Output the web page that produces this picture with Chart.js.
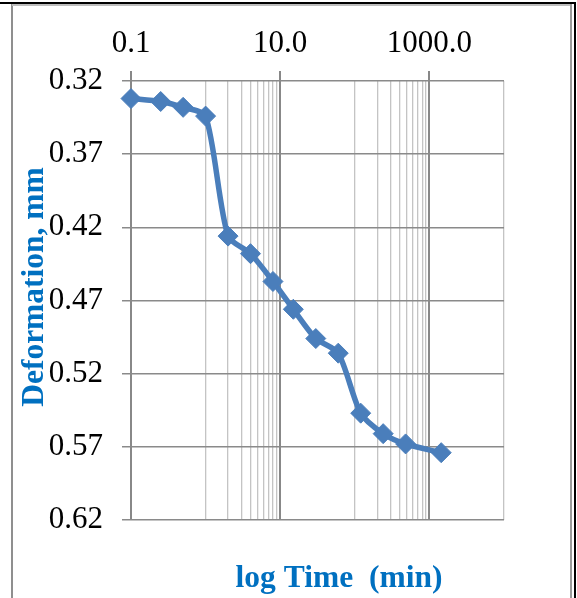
<!DOCTYPE html>
<html>
<head>
<meta charset="utf-8">
<script src="https://cdn.jsdelivr.net/npm/chart.js@4/dist/chart.umd.min.js"></script>
<style>
  html, body { margin: 0; padding: 0; background: #fff; }
  #wrap { position: relative; width: 577px; height: 598px; overflow: hidden; }
  #wrap canvas { position: absolute; left: 0; top: 0; }
  .edge { position: absolute; }
</style>
</head>
<body>
<div id="wrap">
  <div class="edge" style="left:0;top:2px;width:576px;height:2px;background:#000"></div>
  <div class="edge" style="left:574px;top:2px;width:2px;height:596px;background:#000"></div>
  <div class="edge" style="left:11px;top:4px;width:2px;height:594px;background:#8f8f8f"></div>
  <div class="edge" style="left:12px;top:4px;width:560px;height:2px;background:#bdbdbd"></div>
  <div class="edge" style="left:570px;top:4px;width:2px;height:594px;background:#9a9a9a"></div>
  <canvas id="chart" width="577" height="598"></canvas>
</div>
<script>
// Consolidation readings: elapsed time (min) and dial deformation (mm)
const timeMin = [0.1, 0.25, 0.5, 1, 2, 4, 8, 15, 30, 60, 120, 240, 480, 1440];
const deformationMm = [0.332, 0.334, 0.338, 0.344, 0.426, 0.438, 0.457, 0.476, 0.496, 0.506, 0.547, 0.561, 0.568, 0.574];

// Axis ticks
const yTicks = [0.32, 0.37, 0.42, 0.47, 0.52, 0.57, 0.62];
const xMajorTicks = [0.1, 10, 1000];
const xMinorTicks = [1, 2, 3, 4, 5, 6, 7, 8, 9, 100, 200, 300, 400, 500, 600, 700, 800, 900, 10000];

const xTitle = 'log Time  (min)';
const yTitle = 'Deformation, mm';

const SERIF = "'Liberation Serif', 'Times New Roman', serif";
const BLUE_TEXT = '#0070C0';
const LINE_BLUE = '#4A7EBB';

const isMajor = v => xMajorTicks.some(m => Math.abs(m - v) < 1e-9);

// Axis captions placed relative to the plot area
const captions = {
  id: 'captions',
  afterDraw(chart) {
    const { ctx, chartArea } = chart;
    ctx.save();
    ctx.fillStyle = BLUE_TEXT;
    ctx.font = 'bold 31.5px ' + SERIF;
    ctx.textAlign = 'center';
    ctx.textBaseline = 'middle';
    ctx.fillText(xTitle, chartArea.left + 208, chartArea.bottom + 59);
    ctx.translate(chartArea.left - 96, chartArea.top + 206);
    ctx.rotate(-Math.PI / 2);
    ctx.fillText(yTitle, 0, 0);
    ctx.restore();
  }
};

new Chart(document.getElementById('chart'), {
  type: 'line',
  data: {
    datasets: [{
      data: timeMin.map((t, i) => ({ x: t, y: deformationMm[i] })),
      borderColor: LINE_BLUE,
      backgroundColor: LINE_BLUE,
      borderWidth: 5.5,
      tension: 0.25,
      pointStyle: 'rectRot',
      pointRadius: 10,
      pointHoverRadius: 10,
      pointBorderWidth: 1,
      pointBorderColor: LINE_BLUE,
      clip: false
    }]
  },
  options: {
    responsive: false,
    animation: false,
    events: [],
    layout: { padding: { left: 0, top: 0, right: 73, bottom: 78 } },
    plugins: { legend: { display: false }, tooltip: { enabled: false }, title: { display: false } },
    scales: {
      x: {
        type: 'logarithmic',
        position: 'top',
        min: 0.1,
        max: 10000,
        afterBuildTicks: s => { s.ticks = [...xMajorTicks, ...xMinorTicks].sort((a, b) => a - b).map(v => ({ value: v })); },
        afterFit: s => { s.height = 81; },
        border: { display: false },
        grid: {
          color: c => isMajor(c.tick.value) ? '#888888' : '#c4c4c4',
          lineWidth: c => isMajor(c.tick.value) ? 2 : 1.3,
          tickColor: c => isMajor(c.tick.value) ? '#888888' : 'rgba(0,0,0,0)',
          tickWidth: 2,
          tickLength: 10
        },
        ticks: {
          autoSkip: false,
          maxRotation: 0,
          padding: 9,
          color: '#000',
          font: { family: SERIF, size: 31 },
          callback: v => isMajor(v) ? Number(v).toFixed(1) : ''
        }
      },
      y: {
        type: 'linear',
        reverse: true,
        min: 0.32,
        max: 0.62,
        afterBuildTicks: s => { s.ticks = yTicks.map(v => ({ value: v })); },
        afterFit: s => { s.width = 131; },
        border: { display: false },
        grid: {
          color: '#8a8a8a',
          lineWidth: 1.5,
          tickColor: '#8a8a8a',
          tickLength: 9
        },
        ticks: {
          padding: 19,
          color: '#000',
          font: { family: SERIF, size: 31 },
          callback: v => Number(v).toFixed(2)
        }
      }
    }
  },
  plugins: [captions]
});
</script>
</body>
</html>
